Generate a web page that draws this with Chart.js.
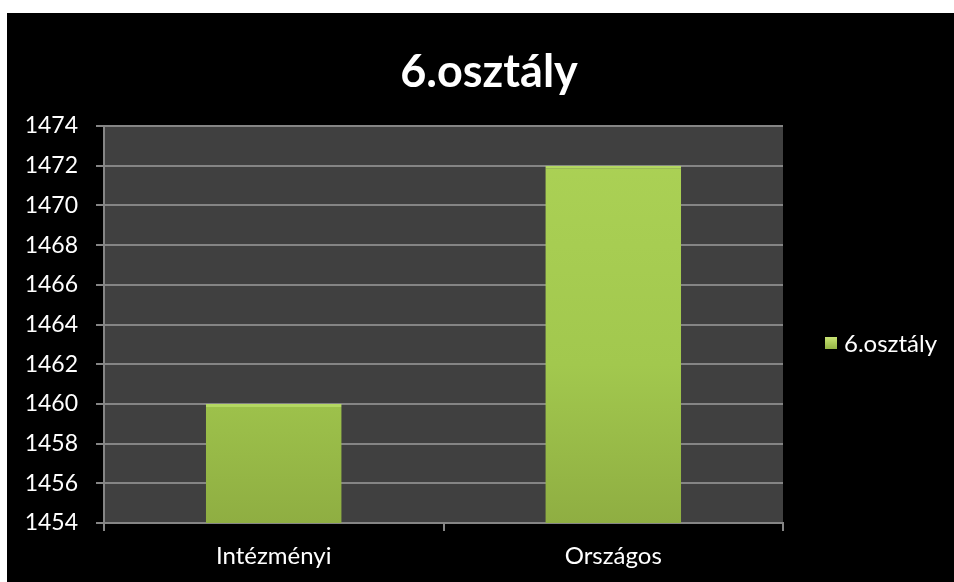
<!DOCTYPE html>
<html>
<head>
<meta charset="utf-8">
<script src="https://cdn.jsdelivr.net/npm/chart.js@4"></script>
<style>
  body { margin: 0; background: #fff; width: 954px; height: 582px; overflow: hidden; position: relative; font-family: Lato, "Open Sans", sans-serif; }
  #frame { position: absolute; left: 7px; top: 13px; width: 947px; height: 569px; background: #000; }
  #chartWrap { position: absolute; left: 0; top: 0; width: 954px; height: 582px; }
  #title { position: absolute; left: 339px; width: 300px; top: 42px; text-align: center; color: #fff; font-weight: bold; font-size: 45px; line-height: 56px; }
  #legend { position: absolute; left: 825px; top: 329px; color: #fff; font-size: 24px; line-height: 28px; display: flex; align-items: center; }
  #legend .box { width: 12px; height: 12px; margin-right: 7px; background: linear-gradient(#c8e374, #94b444); }
</style>
</head>
<body>
<div id="frame"></div>
<div id="chartWrap"><canvas id="barChart" width="954" height="582"></canvas></div>
<div id="title">6.osztály</div>
<div id="legend"><span class="box"></span><span id="legendText"></span></div>
<script>
// =============== DATA ===============
const categories = ["Intézményi", "Országos"];
const seriesName = "6.osztály";
const seriesValues = [1460, 1472];
const yTicks = [1454, 1456, 1458, 1460, 1462, 1464, 1466, 1468, 1470, 1472, 1474];

const gridGray = "#858585";
document.getElementById("legendText").textContent = seriesName;

// Fill the plot area with dark gray before anything is drawn
const plotBg = {
  id: "plotBg",
  beforeDraw(chart) {
    const { ctx, chartArea: a } = chart;
    ctx.save();
    ctx.fillStyle = "#404040";
    ctx.fillRect(a.left, a.top, a.right - a.left, a.bottom - a.top);
    ctx.restore();
  },
};

// Green bar: light top, darker bottom
function barFill(context) {
  const { ctx, chartArea } = context.chart;
  if (!chartArea) return "#a6cc52";
  const g = ctx.createLinearGradient(0, chartArea.top, 0, chartArea.bottom);
  g.addColorStop(0, "#acd256");
  g.addColorStop(0.6, "#a2c84e");
  g.addColorStop(1, "#8fae42");
  return g;
}

new Chart(document.getElementById("barChart"), {
  type: "bar",
  data: {
    labels: categories,
    datasets: [
      {
        label: seriesName,
        data: seriesValues,
        backgroundColor: barFill,
        borderColor: "#b4d862",
        borderWidth: { top: 3, left: 0, right: 0, bottom: 0 },
        borderSkipped: false,
        categoryPercentage: 0.8,
        barPercentage: 0.5,
      },
    ],
  },
  options: {
    responsive: false,
    animation: false,
    layout: { padding: { left: 0, right: 171, top: 126, bottom: 0 } },
    plugins: {
      legend: { display: false },
      title: { display: false },
      tooltip: { enabled: false },
    },
    scales: {
      x: {
        grid: { drawOnChartArea: false, drawTicks: true, tickLength: 8, color: gridGray, lineWidth: 2 },
        border: { color: gridGray, width: 2 },
        ticks: { color: "#fff", font: { family: "Lato", size: 24 }, padding: 11 },
        afterFit: (scale) => { scale.height = 59; },
      },
      y: {
        min: 1454,
        max: 1474,
        afterBuildTicks: (scale) => { scale.ticks = yTicks.map((v) => ({ value: v })); },
        grid: { color: gridGray, lineWidth: 2, tickLength: 8 },
        border: { color: gridGray, width: 2 },
        ticks: { color: "#fff", font: { family: "Lato", size: 23 }, padding: 18, callback: (v) => String(v) },
        afterFit: (scale) => { scale.width = 104; },
      },
    },
  },
  plugins: [plotBg],
});
</script>
</body>
</html>
